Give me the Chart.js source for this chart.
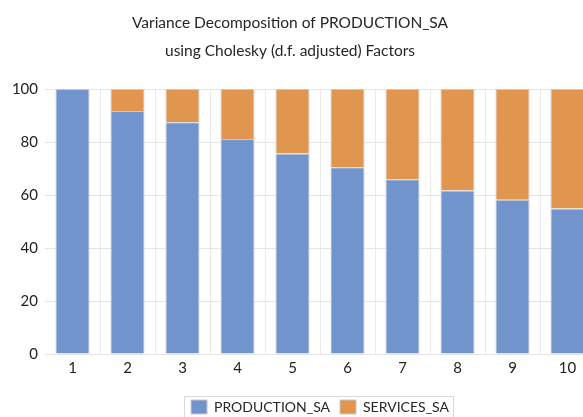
<!DOCTYPE html>
<html>
<head>
<meta charset="utf-8">
<script src="https://cdn.jsdelivr.net/npm/chart.js@4.4.1/dist/chart.umd.min.js"></script>
<style>
  html, body { margin: 0; padding: 0; background: #fff; overflow: hidden; }
  #wrap { width: 583px; height: 417px; overflow: hidden; position: relative; }
  canvas { position: absolute; left: 0; top: 0; }
</style>
</head>
<body>
<div id="wrap"><canvas id="vdChart" width="600" height="430"></canvas></div>
<script>
const periods = ['1','2','3','4','5','6','7','8','9','10'];
const production = [100, 91.7, 87.5, 81.1, 75.7, 70.5, 65.9, 61.7, 58.2, 54.9];
const services   = [0, 8.3, 12.5, 18.9, 24.3, 29.5, 34.1, 38.3, 41.8, 45.1];
const titleLines = ['Variance Decomposition of PRODUCTION_SA', 'using Cholesky (d.f. adjusted) Factors'];
const yTicks = [0, 20, 40, 60, 80, 100];

const FONT = 'Lato, "Open Sans", sans-serif';

// title drawn at a fixed centre, like the Excel export
const titlePlugin = {
  id: 'titleText',
  afterDraw(chart) {
    const ctx = chart.ctx;
    ctx.save();
    ctx.fillStyle = '#262626';
    ctx.font = '15.5px ' + FONT;
    ctx.textAlign = 'center';
    ctx.textBaseline = 'middle';
    ctx.fillText(titleLines[0], 290, 23);
    ctx.fillText(titleLines[1], 290, 51);
    ctx.restore();
  }
};

// thin frame round the legend
const legendFrame = {
  id: 'legendFrame',
  afterDraw(chart) {
    const boxes = chart.legend.legendHitBoxes;
    if (!boxes || !boxes.length) return;
    const last = boxes[boxes.length - 1];
    const l = boxes[0].left - 7, r = last.left + last.width + 4;
    const ctx = chart.ctx;
    ctx.save();
    ctx.strokeStyle = '#d9d9d9';
    ctx.lineWidth = 1;
    ctx.strokeRect(Math.round(l) + 0.5, 396.5, Math.round(r - l), 40);
    ctx.restore();
  }
};

new Chart(document.getElementById('vdChart'), {
  type: 'bar',
  data: {
    labels: periods,
    datasets: [
      { label: 'PRODUCTION_SA', data: production, backgroundColor: '#7294cc', borderColor: '#c9c9c9', borderWidth: 1, categoryPercentage: 1, barPercentage: 0.62 },
      { label: 'SERVICES_SA', data: services, backgroundColor: '#e0964f', borderColor: '#c9c9c9', borderWidth: 1, categoryPercentage: 1, barPercentage: 0.62 }
    ]
  },
  options: {
    responsive: false, animation: false,
    layout: { padding: { top: 89, left: 0, right: 5, bottom: 6 } },
    plugins: {
      title: { display: false },
      tooltip: { enabled: false },
      legend: {
        position: 'bottom', fullSize: false,
        labels: { boxWidth: 16, boxHeight: 14, padding: 10, color: '#262626', font: { family: FONT, size: 14 } }
      }
    },
    scales: {
      x: {
        stacked: true,
        afterFit: s => { s.height = 36; },
        grid: { offset: true, drawTicks: false, color: c => c.index === 0 ? 'rgba(0,0,0,0)' : '#ebebeb' },
        border: { display: false },
        ticks: { padding: 5, color: '#222', font: { family: FONT, size: 15 } }
      },
      y: {
        stacked: true, min: 0, max: 100,
        afterFit: s => { s.width = 45; },
        afterBuildTicks: s => { s.ticks = yTicks.map(v => ({ value: v })); },
        grid: { drawTicks: false, color: '#e6e6e6' },
        border: { display: false },
        ticks: { padding: 7, color: '#222', font: { family: FONT, size: 15 } }
      }
    }
  },
  plugins: [titlePlugin, legendFrame]
});
</script>
</body>
</html>
